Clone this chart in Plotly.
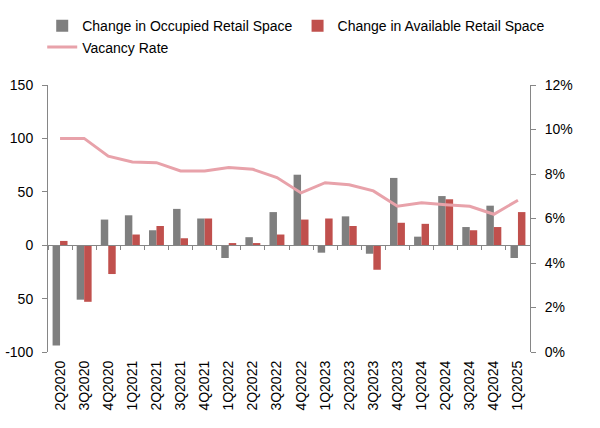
import plotly.graph_objects as go

quarters = ["2Q2020", "3Q2020", "4Q2020", "1Q2021", "2Q2021", "3Q2021", "4Q2021",
            "1Q2022", "2Q2022", "3Q2022", "4Q2022", "1Q2023", "2Q2023", "3Q2023",
            "4Q2023", "1Q2024", "2Q2024", "3Q2024", "4Q2024", "1Q2025"]
occupied = [-94, -51, 24, 28, 14, 34, 25, -12, 7.5, 31, 66, -7, 27, -8, 63, 8, 46, 17, 37, -12]
available = [4, -53, -27, 10, 18, 6.5, 25, 2, 2, 10, 24, 25, 18, -23, 21, 20, 43, 14, 17, 31]
vacancy = [0.096, 0.096, 0.088, 0.0854, 0.0851, 0.0814, 0.0814, 0.0829, 0.0821, 0.0784,
           0.0715, 0.0761, 0.0752, 0.0724, 0.0655, 0.0671, 0.0662, 0.0655, 0.0619, 0.0682]

left_vals = [-100, -50, 0, 50, 100, 150]
left_text = ["-100", "50", "0", "50", "100", "150"]

FONT = "Liberation Sans, Arial, sans-serif"
AXIS = "#868686"

fig = go.Figure()
fig.add_trace(go.Bar(x=quarters, y=occupied, name="Change in Occupied Retail Space",
                     marker=dict(color="#7f7f7f", line=dict(width=0))))
fig.add_trace(go.Bar(x=quarters, y=available, name="Change in Available Retail Space",
                     marker=dict(color="#c0504d", line=dict(width=0))))
fig.add_trace(go.Scatter(x=quarters, y=vacancy, name="Vacancy Rate", yaxis="y2",
                         mode="lines", line=dict(color="#e8a2aa", width=3)))
# helper trace so the zero-line category axis is drawn
fig.add_trace(go.Scatter(x=quarters, y=[0] * len(quarters), xaxis="x2", yaxis="y",
                         mode="markers", marker=dict(opacity=0), showlegend=False,
                         hoverinfo="skip"))

fig.update_layout(
    width=600, height=428,
    margin=dict(l=48, r=70, t=85, b=76, autoexpand=False),
    paper_bgcolor="white", plot_bgcolor="white",
    font=dict(family=FONT, size=14, color="#000000"),
    barmode="group", bargap=0.38, bargroupgap=0,
    showlegend=True,
    legend=dict(orientation="h", x=-0.012, y=1.28, xanchor="left", yanchor="top",
                font=dict(family=FONT, size=14, color="#000000"),
                bgcolor="rgba(0,0,0,0)", traceorder="normal"),
    xaxis=dict(type="category", categoryorder="array", categoryarray=quarters,
               range=[-0.5, len(quarters) - 0.5], showline=False, showgrid=False,
               zeroline=False, ticks="", tickangle=-90, ticklabelstandoff=5,
               tickfont=dict(family=FONT, size=14, color="#000000")),
    xaxis2=dict(type="category", categoryorder="array", categoryarray=quarters,
                range=[-0.5, len(quarters) - 0.5], overlaying="x", anchor="free",
                position=0.4, showline=True, linecolor=AXIS, linewidth=1,
                ticks="outside", tickson="boundaries", ticklen=4, tickcolor=AXIS,
                showticklabels=False, showgrid=False, zeroline=False),
    yaxis=dict(range=[-100, 150], tickvals=left_vals, ticktext=left_text,
               showline=True, linecolor=AXIS, linewidth=1, ticks="outside",
               ticklen=5, tickcolor=AXIS, showgrid=False, zeroline=False,
               ticklabelstandoff=6,
               tickfont=dict(family=FONT, size=14, color="#000000")),
    yaxis2=dict(range=[0, 0.12], overlaying="y", side="right", tickformat=".0%",
                dtick=0.02, tick0=0, showline=True, linecolor=AXIS, linewidth=1,
                ticks="outside", ticklen=5, tickcolor=AXIS, showgrid=False,
                zeroline=False, ticklabelstandoff=6,
                tickfont=dict(family=FONT, size=14, color="#000000")),
)

fig.write_html("out.html")
